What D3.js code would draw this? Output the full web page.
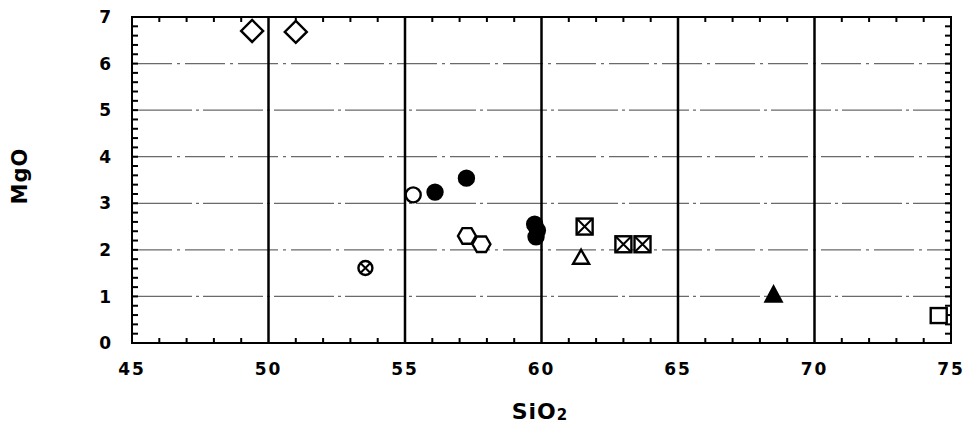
<!DOCTYPE html>
<html>
<head>
<meta charset="utf-8">
<script src="https://cdn.jsdelivr.net/npm/d3@7"></script>
<style>
  body { margin: 0; background: #fff; }
  text { font-family: "DejaVu Sans", sans-serif; font-weight: bold; fill: #000; }
</style>
</head>
<body>
<svg id="chart" width="967" height="436"></svg>
<script>
// axis ticks
var xTicks = [45, 50, 55, 60, 65, 70, 75]
var yTicks = [0, 1, 2, 3, 4, 5, 6, 7]

// samples, one array per symbol (SiO2, MgO)
var diamondOpen = [[49.4, 6.7], [51.0, 6.68]]
var circleCross = [[53.55, 1.61]]
var circleOpen = [[55.3, 3.18]]
var circleFilled = [[56.1, 3.24], [57.25, 3.54], [59.75, 2.55], [59.85, 2.42], [59.8, 2.28]]
var hexOpen = [[57.27, 2.3], [57.8, 2.12]]
var boxCross = [[61.58, 2.5], [63.0, 2.12], [63.7, 2.12]]
var triOpen = [[61.45, 1.83]]
var triFilled = [[68.5, 1.04]]
var squareOpen = [[74.55, 0.6]]

var svg = d3.select("#chart")
var pLeft = 132, pRight = 951, pTop = 17, pBottom = 343

var x = d3.scaleLinear().domain([45, 75]).range([pLeft, pRight])
var y = d3.scaleLinear().domain([0, 7]).range([pBottom, pTop])

// horizontal grid lines (grey, broken)
svg.append("g").selectAll("line")
  .data(yTicks.slice(1, -1))
  .enter().append("line")
  .attr("x1", pLeft).attr("x2", pRight)
  .attr("y1", d => y(d)).attr("y2", d => y(d))
  .attr("stroke", "#6a6a6a")
  .attr("stroke-width", 1.3)
  .attr("stroke-dasharray", (d, i) => i % 2 ? "40,5,3,5" : "60,4,3,4")

// vertical lines at the major ticks
svg.append("g").selectAll("line")
  .data(xTicks.slice(1, -1))
  .enter().append("line")
  .attr("x1", d => x(d)).attr("x2", d => x(d))
  .attr("y1", pTop).attr("y2", pBottom)
  .attr("stroke", "#000")
  .attr("stroke-width", 2.5)

// frame
svg.append("rect")
  .attr("x", pLeft).attr("y", pTop)
  .attr("width", pRight - pLeft).attr("height", pBottom - pTop)
  .attr("fill", "none").attr("stroke", "#000").attr("stroke-width", 2)

// minor ticks on all four sides
var xMinor = d3.range(46, 75, 1).filter(d => d % 5 != 0)
var yMinor = d3.range(0.2, 7, 0.2)
var ticks = svg.append("g").attr("stroke", "#000").attr("stroke-width", 2)
xMinor.forEach(function(d) {
  ticks.append("line").attr("x1", x(d)).attr("x2", x(d)).attr("y1", pBottom).attr("y2", pBottom - 5)
  ticks.append("line").attr("x1", x(d)).attr("x2", x(d)).attr("y1", pTop).attr("y2", pTop + 5)
})
yMinor.forEach(function(d) {
  ticks.append("line").attr("x1", pLeft).attr("x2", pLeft + 6).attr("y1", y(d)).attr("y2", y(d))
  ticks.append("line").attr("x1", pRight).attr("x2", pRight - 6).attr("y1", y(d)).attr("y2", y(d))
})

// tick labels
svg.append("g").selectAll("text")
  .data(xTicks)
  .enter().append("text")
  .attr("x", d => x(d)).attr("y", pBottom + 26)
  .attr("dy", "0.36em")
  .attr("text-anchor", "middle")
  .attr("font-size", 17)
  .attr("letter-spacing", 2)
  .text(d => d)

svg.append("g").selectAll("text")
  .data(yTicks)
  .enter().append("text")
  .attr("x", 111).attr("y", d => y(d))
  .attr("dy", "0.36em")
  .attr("text-anchor", "end")
  .attr("font-size", 17)
  .text(d => d)

// axis titles
var xt = svg.append("text")
  .attr("x", 540).attr("y", 419)
  .attr("text-anchor", "middle")
  .attr("font-size", 22)
  .attr("letter-spacing", 1)
xt.append("tspan").text("SiO")
xt.append("tspan").attr("font-size", 15).attr("dy", 1).text("2")

svg.append("text")
  .attr("transform", "translate(27,176) rotate(-90)")
  .attr("text-anchor", "middle")
  .attr("font-size", 21)
  .attr("letter-spacing", 1)
  .text("MgO")

// symbols
var g = svg.append("g").attr("stroke", "#000").attr("stroke-width", 2.4)

function px(d) { return x(d[0]) }
function py(d) { return y(d[1]) }

g.selectAll(".dia").data(diamondOpen).enter().append("path")
  .attr("fill", "#fff")
  .attr("d", d => `M${px(d)},${py(d) - 11}L${px(d) + 11},${py(d)}L${px(d)},${py(d) + 11}L${px(d) - 11},${py(d)}Z`)

circleCross.forEach(function(d) {
  g.append("circle").attr("cx", px(d)).attr("cy", py(d)).attr("r", 7).attr("fill", "#fff")
  g.append("path").attr("stroke-width", 2)
    .attr("d", `M${px(d) - 5},${py(d) - 5}L${px(d) + 5},${py(d) + 5}M${px(d) + 5},${py(d) - 5}L${px(d) - 5},${py(d) + 5}`)
})

g.selectAll(".co").data(circleOpen).enter().append("circle")
  .attr("cx", px).attr("cy", py).attr("r", 7.5).attr("fill", "#fff")

g.selectAll(".cf").data(circleFilled).enter().append("circle")
  .attr("cx", px).attr("cy", py).attr("r", 7.5).attr("fill", "#000")

var hex = d3.range(6).map(i => [Math.cos(i * Math.PI / 3) * 9, Math.sin(i * Math.PI / 3) * 9])
g.selectAll(".hx").data(hexOpen).enter().append("path")
  .attr("fill", "#fff")
  .attr("d", d => "M" + hex.map(p => (px(d) + p[0]) + "," + (py(d) + p[1])).join("L") + "Z")

boxCross.forEach(function(d) {
  g.append("rect").attr("x", px(d) - 8).attr("y", py(d) - 8).attr("width", 16).attr("height", 16).attr("fill", "#fff")
  g.append("path").attr("stroke-width", 2)
    .attr("d", `M${px(d) - 8},${py(d) - 8}L${px(d) + 8},${py(d) + 8}M${px(d) + 8},${py(d) - 8}L${px(d) - 8},${py(d) + 8}`)
})

g.selectAll(".to").data(triOpen).enter().append("path")
  .attr("fill", "#fff")
  .attr("d", d => `M${px(d)},${py(d) - 8}L${px(d) + 8},${py(d) + 6}L${px(d) - 8},${py(d) + 6}Z`)

g.selectAll(".tf").data(triFilled).enter().append("path")
  .attr("fill", "#000")
  .attr("d", d => `M${px(d)},${py(d) - 8}L${px(d) + 8},${py(d) + 7}L${px(d) - 8},${py(d) + 7}Z`)

g.selectAll(".sq").data(squareOpen).enter().append("rect")
  .attr("fill", "#fff")
  .attr("x", d => px(d) - 8).attr("y", d => py(d) - 7)
  .attr("width", 16).attr("height", 15)
</script>
</body>
</html>
